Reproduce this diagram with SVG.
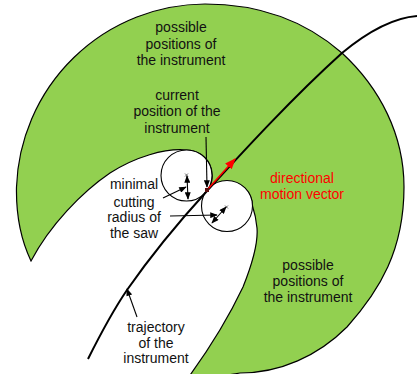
<svg xmlns="http://www.w3.org/2000/svg" width="417" height="374" viewBox="0 0 417 374">
<style>
.t{font-family:"Liberation Sans",Arial,sans-serif;font-size:14px;fill:#111;text-anchor:middle}
.r{fill:#f00}
.l{fill:none;stroke:#000;stroke-width:1.1}
</style>
<defs>
<marker id="a" viewBox="0 0 10 8" refX="9" refY="4" markerWidth="8" markerHeight="6" markerUnits="userSpaceOnUse" orient="auto-start-reverse"><path d="M0 0L10 4L0 8Z" fill="#000"/></marker>
<marker id="b" viewBox="0 0 10 8" refX="9" refY="4" markerWidth="11" markerHeight="9" markerUnits="userSpaceOnUse" orient="auto"><path d="M0 0L10 4L0 8Z" fill="#f00"/></marker>
</defs>
<g id="region">
<path d="M31 261C20 238 16 212 16.500 187A189.500 189.500 0 0 1 205 4C265 4 310 25 342 53C380 88 404 135 404 187C404 250 380 290 347 327C318 356 280 373 240 373L185 382C205 355 225 325 243 287C253 262 258 240 257 228C256 218 254.500 212 252.500 206A25.500 25.500 0 0 0 207 191A25.500 25.500 0 0 0 186.500 150C165 148 135 157 110 173C82 192 50 225 31 261Z" fill="#92d050" stroke="#000" stroke-width="1.2"/>
</g>
<g id="circle-1"><circle cx="186.500" cy="175.500" r="25.500" fill="#fff" stroke="#000" stroke-width="1.1"/><path d="M185 173.500l3 3m0-3l-3 3" stroke="#333" stroke-width=".7"/></g>
<g id="circle-2"><circle cx="227" cy="206" r="25.500" fill="#fff" stroke="#000" stroke-width="1.1"/><path d="M225 205.500l3 3m0-3l-3 3" stroke="#333" stroke-width=".7"/></g>
<g id="connectors">
<path d="M88 359C100 335 112 312 127 290C150 257 175 226 207 191C240 155 290 100 342 53C365 34 390 18 417 16" fill="none" stroke="#000" stroke-width="2"/>
<path class="l" d="M137 317L127 289" marker-end="url(#a)"/>
<path class="l" d="M206 137L207 187" marker-end="url(#a)"/>
<path class="l" d="M187 176L188 199" marker-start="url(#a)" marker-end="url(#a)"/>
<path class="l" d="M163 198L186 187" marker-end="url(#a)"/>
<path class="l" d="M170 216L217 215" marker-end="url(#a)"/>
<path class="l" d="M226 207L212 223" marker-start="url(#a)" marker-end="url(#a)"/>
<path d="M207 190L235 159" fill="none" stroke="#f00" stroke-width="1.6" marker-end="url(#b)"/>
<rect x="205" y="188" width="4" height="4" fill="#5a1010"/>
</g>
<g id="labels">
<text class="t" x="181" y="32">possible</text><text class="t" x="181" y="49">positions of</text><text class="t" x="181" y="65">the instrument</text>
<text class="t" x="177" y="100">current</text><text class="t" x="177" y="116">position of the</text><text class="t" x="177" y="133">instrument</text>
<text class="t" x="134" y="189">minimal</text><text class="t" x="134" y="207">cutting</text><text class="t" x="134" y="222">radius of</text><text class="t" x="134" y="238">the saw</text>
<text class="t r" x="302" y="183">directional</text><text class="t r" x="302" y="199">motion vector</text>
<text class="t" x="308" y="270">possible</text><text class="t" x="308" y="286">positions of</text><text class="t" x="308" y="302">the instrument</text>
<text class="t" x="156" y="332">trajectory</text><text class="t" x="156" y="348">of the</text><text class="t" x="156" y="363">instrument</text>
</g>
</svg>
